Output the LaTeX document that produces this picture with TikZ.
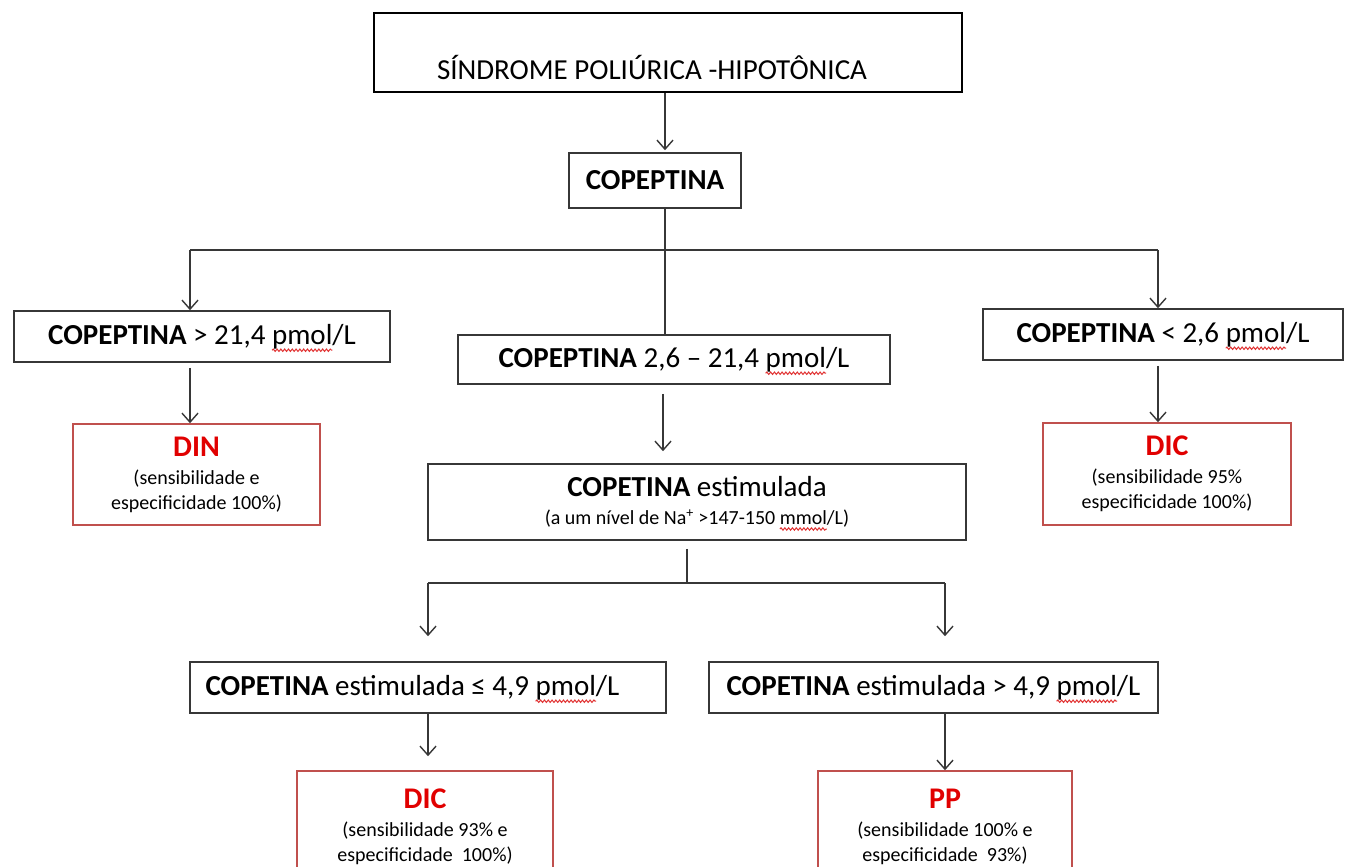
\documentclass[tikz,border=0pt]{standalone}
\usepackage{fontspec}
\setmainfont{Carlito}
\usetikzlibrary{arrows.meta,decorations.pathmorphing,calc}
\definecolor{lc}{RGB}{55,55,55}
\definecolor{rb}{RGB}{192,80,77}
\definecolor{rt}{RGB}{225,0,0}
\definecolor{sqc}{RGB}{225,50,50}
\newlength\pmw \newlength\mmw
\newlength\offA \newlength\offB \newlength\offC \newlength\offD \newlength\offDall
\newlength\offE \newlength\offF
\newcommand\measureall{%
\settowidth\pmw{\fontsize{29}{32}\selectfont pmol}\global\pmw=\pmw
\settowidth\mmw{\fontsize{20}{22}\selectfont mmol}\global\mmw=\mmw
\settowidth\offA{\fontsize{29}{32}\selectfont\textbf{COPEPTINA} > 21,4 }\global\offA=\offA
\settowidth\offB{\fontsize{29}{32}\selectfont\textbf{COPEPTINA} 2,6 – 21,4 }\global\offB=\offB
\settowidth\offC{\fontsize{29}{32}\selectfont\textbf{COPEPTINA} < 2,6 }\global\offC=\offC
\settowidth\offD{\fontsize{20}{22}\selectfont (a um nível de Na\textsuperscript{+} >147-150 }%
\settowidth\offDall{\fontsize{20}{22}\selectfont (a um nível de Na\textsuperscript{+} >147-150 mmol/L)}%
\global\offD=\dimexpr\offD-\offDall/2\relax
\settowidth\offE{\fontsize{29}{32}\selectfont\textbf{COPETINA} estimulada ≤ 4,9 }\global\offE=\offE
\settowidth\offF{\fontsize{29}{32}\selectfont\textbf{COPETINA} estimulada > 4,9 }\global\offF=\offF
}
\begin{document}
\begin{tikzpicture}[x=1pt,y=-1pt,
  box/.style={draw=lc, line width=1.6pt, inner sep=0pt, font=\fontsize{29}{32}\selectfont},
  redbox/.style={draw=rb, line width=1.6pt, inner sep=0pt, align=center, font=\fontsize{20}{25}\selectfont},
  arr/.style={draw=lc, line width=1.4pt, -{Straight Barb[length=9pt,width=16pt]}},
  ln/.style={draw=lc, line width=1.4pt},
  squig/.style={draw=sqc, line width=1pt, decorate, decoration={snake, amplitude=1.2pt, segment length=3.8pt}}]
\clip (0,0) rectangle (1347,867);
\fill[white] (0,0) rectangle (1347,867);

% boxes
\node[box, draw=black, line width=2.8pt, minimum width=588pt, minimum height=79pt] (top) at (668,52.5) {};
\node[font=\fontsize{29}{32}\selectfont] (toptxt) at (652,67) {SÍNDROME POLIÚRICA -HIPOTÔNICA};
\node[box, minimum width=172pt, minimum height=55pt] (cop) at (655,180.5) {\textbf{COPEPTINA}};
\node[box, minimum width=376pt, minimum height=51pt] (left) at (202,336.5) {\measureall\textbf{COPEPTINA} > 21,4 pmol/L};
\node[box, minimum width=432pt, minimum height=49pt] (mid) at (674,359.5) {\textbf{COPEPTINA} 2,6 – 21,4 pmol/L};
\node[box, minimum width=360pt, minimum height=51pt] (right) at (1163,334.5) {\textbf{COPEPTINA} < 2,6 pmol/L};
\node[redbox, minimum width=247pt, minimum height=101pt] (din) at (196.5,474.5)
  {{\fontsize{30}{30}\selectfont\bfseries\color{rt}DIN}\\[3pt](sensibilidade e\\especificidade 100\%)};
\node[redbox, minimum width=248pt, minimum height=102pt] (dicr) at (1167,474)
  {{\fontsize{30}{30}\selectfont\bfseries\color{rt}DIC}\\[3pt](sensibilidade 95\%\\especificidade 100\%)};
\node[box, align=center, font=\fontsize{29}{28}\selectfont, minimum width=538pt, minimum height=76pt] (stim) at (697,502)
  {\textbf{COPETINA} estimulada\\{\fontsize{20}{22}\selectfont (a um nível de Na\textsuperscript{+} >147-150 mmol/L)}};
\node[box, minimum width=476pt, minimum height=51pt] (le) at (428,687.5) {\textbf{COPETINA} estimulada ≤ 4,9 pmol/L\hspace*{31pt}};
\node[box, minimum width=449pt, minimum height=51pt] (gt) at (933.5,687.5) {\textbf{COPETINA} estimulada > 4,9 pmol/L};
\node[redbox, minimum width=256pt, minimum height=112pt] (dicb) at (425,827)
  {{\fontsize{30}{30}\selectfont\bfseries\color{rt}DIC}\\[3pt](sensibilidade 93\% e\\especificidade~~100\%)};
\node[redbox, minimum width=254pt, minimum height=112pt] (pp) at (945,827)
  {{\fontsize{30}{30}\selectfont\bfseries\color{rt}PP}\\[3pt](sensibilidade 100\% e\\especificidade~~93\%)};

% spell-check marks
\draw[squig] ([xshift=\offA, yshift=-6pt]left.text) -- ++(\pmw,0pt);
\draw[squig] ([xshift=\offB, yshift=-6pt]mid.text) -- ++(\pmw,0pt);
\draw[squig] ([xshift=\offC, yshift=-6pt]right.text) -- ++(\pmw,0pt);
\draw[squig] ([xshift=\offD, yshift=-27pt]stim.center) -- ++(\mmw,0pt);
\draw[squig] ([xshift=\offE, yshift=-6pt]le.text) -- ++(\pmw,0pt);
\draw[squig] ([xshift=\offF, yshift=-6pt]gt.text) -- ++(\pmw,0pt);

% junction points
\coordinate (j0) at (665,250);
\coordinate (jl) at (190,250);
\coordinate (jr) at (1158,250);
\coordinate (jm) at (663,393);
\coordinate (js) at (687,583);
\coordinate (jsl) at (428,583);
\coordinate (jsr) at (945,583);

% connectors
\draw[arr, shorten >=2pt] (top.south -| j0) -- (cop.north -| j0);
\draw[ln] (cop.south -| j0) -- (j0);
\draw[ln] (jl) -- (jr);
\draw[arr] (jl) -- (jl |- left.north);
\draw[arr] (jr) -- (jr |- right.north);
\draw[ln] (j0) -- (j0 |- mid.north);
\draw[arr, shorten <=5pt] (left.south -| jl) -- (din.north -| jl);
\draw[arr, shorten <=5pt] (right.south -| jr) -- (dicr.north -| jr);
\draw[arr, shorten <=9pt, shorten >=12pt] (mid.south -| jm) -- (stim.north -| jm);
\draw[ln, shorten <=8pt] (stim.south -| js) -- (js);
\draw[ln] (jsl) -- (jsr);
\draw[arr, shorten >=25pt] (jsl) -- (jsl |- le.north);
\draw[arr, shorten >=25pt] (jsr) -- (jsr |- gt.north);
\draw[arr, shorten >=14pt] (le.south -| jsl) -- (dicb.north -| jsl);
\draw[arr] (gt.south -| jsr) -- (pp.north -| jsr);
\end{tikzpicture}
\end{document}
